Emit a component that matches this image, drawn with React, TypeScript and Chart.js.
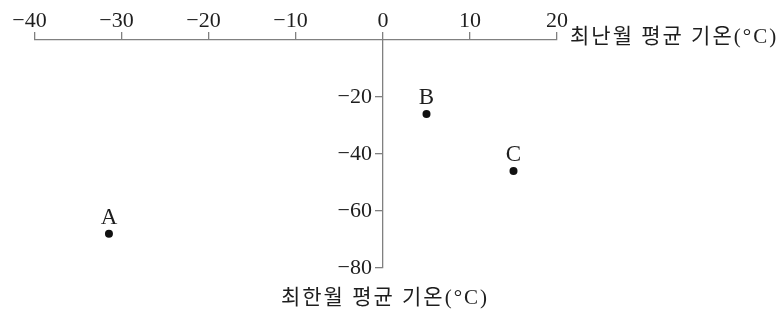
import React, { useEffect, useRef } from "react";
import { Chart, registerables } from "chart.js";

Chart.register(...registerables);

const cities = ["A", "B", "C"];
const warmestMonthTemp = [-31.5, 5, 15];
const coldestMonthTemp = [-68, -26, -46];
const xTitle = "최난월 평균 기온(°C)";
const yTitle = "최한월 평균 기온(°C)";
const xRange = [-40, 20];
const yRange = [-80, 0];

// digits centred on the tick; the minus sign hangs to the left
const fmtX = (v: number) => (v < 0 ? "\u2212" + Math.abs(v) + "\u2002" : String(v));
const fmtY = (v: number) => (v < 0 ? "\u2212" + Math.abs(v) : String(v)) + "\u2002";

const SERIF = "'Liberation Serif', 'DejaVu Serif', serif";
const TITLE_FONT = "'Liberation Serif', 'Noto Sans CJK KR', sans-serif";
const LINE = "#808080";
const TEXT = "#1e1e1e";

const labelsPlugin = {
  id: "labelsPlugin",
  afterDatasetsDraw(chart: any) {
    const { ctx, scales } = chart;
    const meta = chart.getDatasetMeta(0);
    ctx.save();
    ctx.fillStyle = TEXT;
    ctx.font = `23px ${SERIF}`;
    ctx.textAlign = "center";
    ctx.textBaseline = "middle";
    meta.data.forEach((el: any, i: number) => {
      ctx.fillText(cities[i], el.x, el.y - 16);
    });
    ctx.font = `21px ${TITLE_FONT}`;
    (ctx as any).letterSpacing = "2px";
    ctx.textAlign = "left";
    ctx.fillText(xTitle, scales.x.right + 13, scales.x.bottom - 3);
    ctx.textAlign = "center";
    ctx.fillText(yTitle, scales.x.getPixelForValue(0) + 2, scales.y.bottom + 30);
    ctx.restore();
  },
};

export default function App() {
  const ref = useRef<HTMLCanvasElement | null>(null);
  useEffect(() => {
    if (!ref.current) return;
    const chart = new Chart(ref.current, {
      type: "scatter",
      data: {
        datasets: [
          {
            data: cities.map((_, i) => ({ x: warmestMonthTemp[i], y: coldestMonthTemp[i] })),
            pointRadius: 4,
            pointBackgroundColor: "#111",
            pointBorderWidth: 0,
          },
        ],
      },
      options: {
        responsive: false,
        animation: false,
        layout: { padding: { left: 35, right: 224, top: 0, bottom: 42 } },
        plugins: { legend: { display: false }, tooltip: { enabled: false } },
        scales: {
          x: {
            type: "linear",
            position: "top",
            min: xRange[0],
            max: xRange[1],
            afterFit: (s: any) => {
              s.height = 40;
            },
            grid: { drawOnChartArea: false, drawTicks: true, tickLength: 8, color: LINE, lineWidth: 1.3 },
            border: { display: true, color: LINE, width: 1.3 },
            ticks: {
              stepSize: 10,
              padding: -2,
              color: TEXT,
              font: { family: SERIF, size: 22 },
              callback: (v: any) => fmtX(Number(v)),
            },
          },
          y: {
            type: "linear",
            position: { x: 0 } as any,
            min: yRange[0],
            max: yRange[1],
            grid: { drawOnChartArea: false, drawTicks: true, tickLength: 7, color: LINE, lineWidth: 1.3 },
            border: { display: true, color: LINE, width: 1.3 },
            ticks: {
              stepSize: 20,
              padding: 4,
              color: TEXT,
              font: { family: SERIF, size: 22 },
              callback: (v: any) => (Number(v) === 0 ? null : fmtY(Number(v))),
            },
          },
        },
      },
      plugins: [labelsPlugin],
    });
    return () => chart.destroy();
  }, []);
  return (
    <div style={{ position: "fixed", left: 0, top: 0, width: 781, height: 310, background: "#fff" }}>
      <canvas ref={ref} width={781} height={310} />
    </div>
  );
}
